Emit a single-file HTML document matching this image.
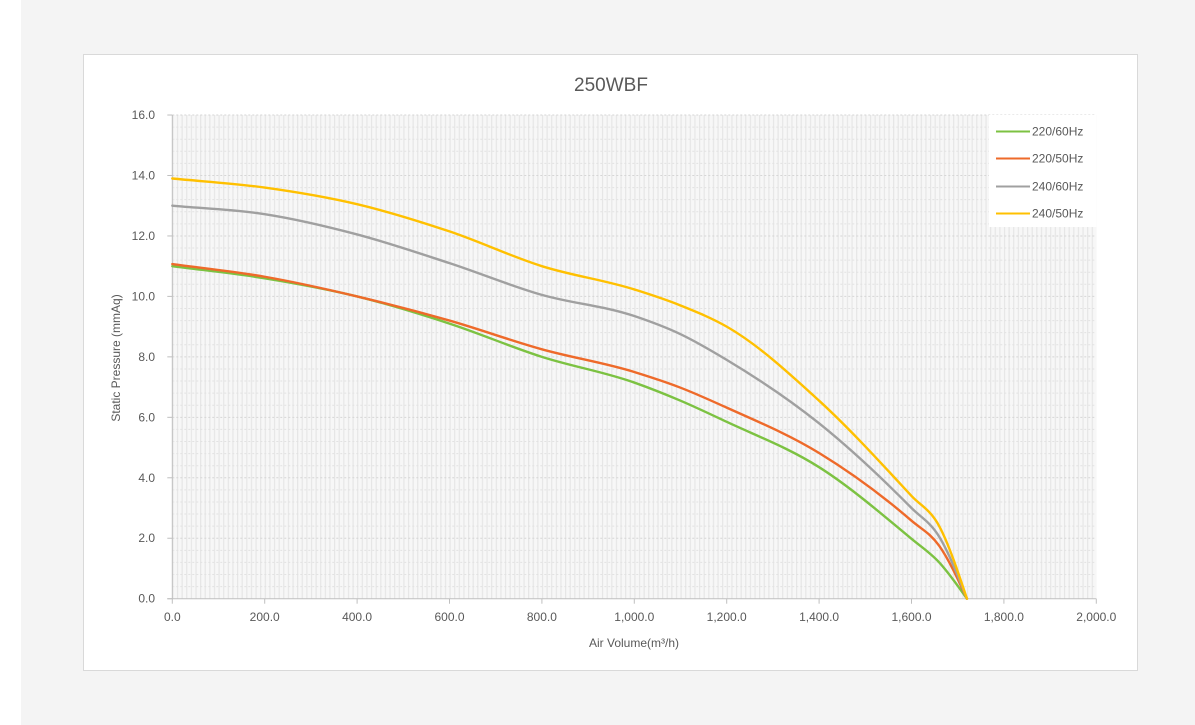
<!DOCTYPE html>
<html>
<head>
<meta charset="utf-8">
<style>
  html,body{margin:0;padding:0;background:#fff;}
  body{width:1195px;height:725px;position:relative;overflow:hidden;font-family:"Liberation Sans",sans-serif;}
  #bg{position:absolute;left:21px;top:0;width:1174px;height:725px;background:#f4f4f4;}
  svg{position:absolute;left:0;top:0;}
</style>
</head>
<body>
<div id="bg"></div>
<svg id="chart" width="1195" height="725" viewBox="0 0 1195 725" xmlns="http://www.w3.org/2000/svg">
  <defs>
    <pattern id="vgrid" x="172.3" y="0" width="4.62" height="725" patternUnits="userSpaceOnUse">
      <rect x="0" y="0" width="1.2" height="725" fill="#e6e6e6"/>
    </pattern>
  </defs>
  <rect x="83.5" y="54.5" width="1054" height="616" fill="#fff" stroke="#d9d9d9" stroke-width="1"/>
  <text x="611" y="91" font-size="19" fill="#595959" text-anchor="middle">250WBF</text>
  <rect x="172.3" y="115" width="924" height="483.7" fill="#f7f7f7"/>
  <rect x="172.3" y="115" width="924" height="483.7" fill="url(#vgrid)"/>
  <g id="hgrid"></g>
  <rect x="989" y="115" width="107.3" height="112" fill="#fff"/>
  <g id="axes"></g>
  <g id="series" fill="none" stroke-width="2.4" stroke-linejoin="round" stroke-linecap="round"></g>
  <g id="labels" font-size="12" fill="#595959"></g>
  <text transform="translate(120,358) rotate(-90)" font-size="12" fill="#595959" text-anchor="middle">Static Pressure (mmAq)</text>
  <text x="634" y="647" font-size="12" fill="#595959" text-anchor="middle">Air Volume(m³/h)</text>
  <g font-size="12" fill="#595959">
    <line x1="996" y1="131.5" x2="1030" y2="131.5" stroke="#7cc242" stroke-width="2"/>
    <text x="1032" y="135.5">220/60Hz</text>
    <line x1="996" y1="158.5" x2="1030" y2="158.5" stroke="#ee6a2a" stroke-width="2"/>
    <text x="1032" y="162.5">220/50Hz</text>
    <line x1="996" y1="186.5" x2="1030" y2="186.5" stroke="#a0a0a0" stroke-width="2"/>
    <text x="1032" y="190.5">240/60Hz</text>
    <line x1="996" y1="213.5" x2="1030" y2="213.5" stroke="#ffc000" stroke-width="2"/>
    <text x="1032" y="217.5">240/50Hz</text>
  </g>
</svg>
<script>
(function(){
  var NS="http://www.w3.org/2000/svg";
  var X0=172.3, XS=0.462, Y0=598.7, YS=30.23;
  function X(v){return X0+v*XS;}
  function Y(p){return Y0-p*YS;}
  function el(tag,attrs,parent,text){var e=document.createElementNS(NS,tag);for(var k in attrs)e.setAttribute(k,attrs[k]);if(text!==undefined)e.textContent=text;parent.appendChild(e);return e;}
  var hg=document.getElementById('hgrid');
  for(var i=1;i<=40;i++){
    var y=Y(i*0.4);
    var major=(i%5===0);
    el('line',{x1:X0,y1:y,x2:X0+924,y2:y,stroke:major?'#d6d6d6':'#e2e2e2','stroke-width':1,'stroke-dasharray':'2,2'},hg);
  }
  var ax=document.getElementById('axes');
  el('line',{x1:X0,y1:115,x2:X0,y2:Y0,stroke:'#bfbfbf','stroke-width':1},ax);
  el('line',{x1:X0-5,y1:Y0,x2:X0+924,y2:Y0,stroke:'#bfbfbf','stroke-width':1},ax);
  var lb=document.getElementById('labels');
  for(var j=0;j<=8;j++){
    var p=j*2, yy=Y(p);
    el('line',{x1:X0-5,y1:yy,x2:X0,y2:yy,stroke:'#bfbfbf','stroke-width':1},ax);
    el('text',{x:155,y:yy+4,'text-anchor':'end'},lb,p.toFixed(1));
  }
  for(var k=0;k<=10;k++){
    var v=k*200, x=X(v);
    el('line',{x1:x,y1:Y0,x2:x,y2:Y0+5,stroke:'#bfbfbf','stroke-width':1},ax);
    var s=v.toFixed(1); if(v>=1000){s=s.replace(/^(\d)(\d{3})/,'$1,$2');}
    el('text',{x:x,y:621,'text-anchor':'middle'},lb,s);
  }
  var data={
    '#7cc242':[[0,11.0],[200,10.6],[400,10.0],[600,9.1],[800,8.0],[1000,7.15],[1100,6.55],[1200,5.85],[1400,4.35],[1600,1.98],[1660,1.2],[1720,0]],
    '#ee6a2a':[[0,11.07],[200,10.65],[400,10.0],[600,9.2],[800,8.25],[1000,7.5],[1100,6.98],[1200,6.32],[1400,4.82],[1600,2.58],[1660,1.75],[1720,0]],
    '#a0a0a0':[[0,13.0],[200,12.72],[400,12.05],[600,11.1],[800,10.05],[1000,9.35],[1100,8.75],[1200,7.9],[1400,5.8],[1600,3.0],[1660,2.05],[1720,0]],
    '#ffc000':[[0,13.9],[200,13.6],[400,13.05],[600,12.15],[800,11.0],[1000,10.23],[1100,9.7],[1200,9.0],[1400,6.55],[1600,3.4],[1660,2.4],[1720,0]]
  };
  var sg=document.getElementById('series');
  for(var c in data){
    var pts=data[c];
    var n=pts.length, h=[], dd=[], m=[];
    for(var i=0;i<n-1;i++){h[i]=pts[i+1][0]-pts[i][0]; dd[i]=(pts[i+1][1]-pts[i][1])/h[i];}
    m[0]=dd[0];
    for(var i=1;i<n-1;i++){m[i]=(dd[i-1]*h[i]+dd[i]*h[i-1])/(h[i-1]+h[i]);}
    m[n-1]=dd[n-2]+(dd[n-2]-m[n-2])*0.5;
    var d='M'+X(pts[0][0]).toFixed(2)+','+Y(pts[0][1]).toFixed(2);
    for(var i=0;i<n-1;i++){
      var x1=pts[i][0], y1=pts[i][1], x2=pts[i+1][0], y2=pts[i+1][1], hh=h[i];
      var c1x=x1+hh/3, c1y=y1+m[i]*hh/3, c2x=x2-hh/3, c2y=y2-m[i+1]*hh/3;
      d+=' C'+X(c1x).toFixed(2)+','+Y(c1y).toFixed(2)+' '+X(c2x).toFixed(2)+','+Y(c2y).toFixed(2)+' '+X(x2).toFixed(2)+','+Y(y2).toFixed(2);
    }
    el('path',{d:d,stroke:c},sg);
  }
})();
</script>
</body>
</html>
